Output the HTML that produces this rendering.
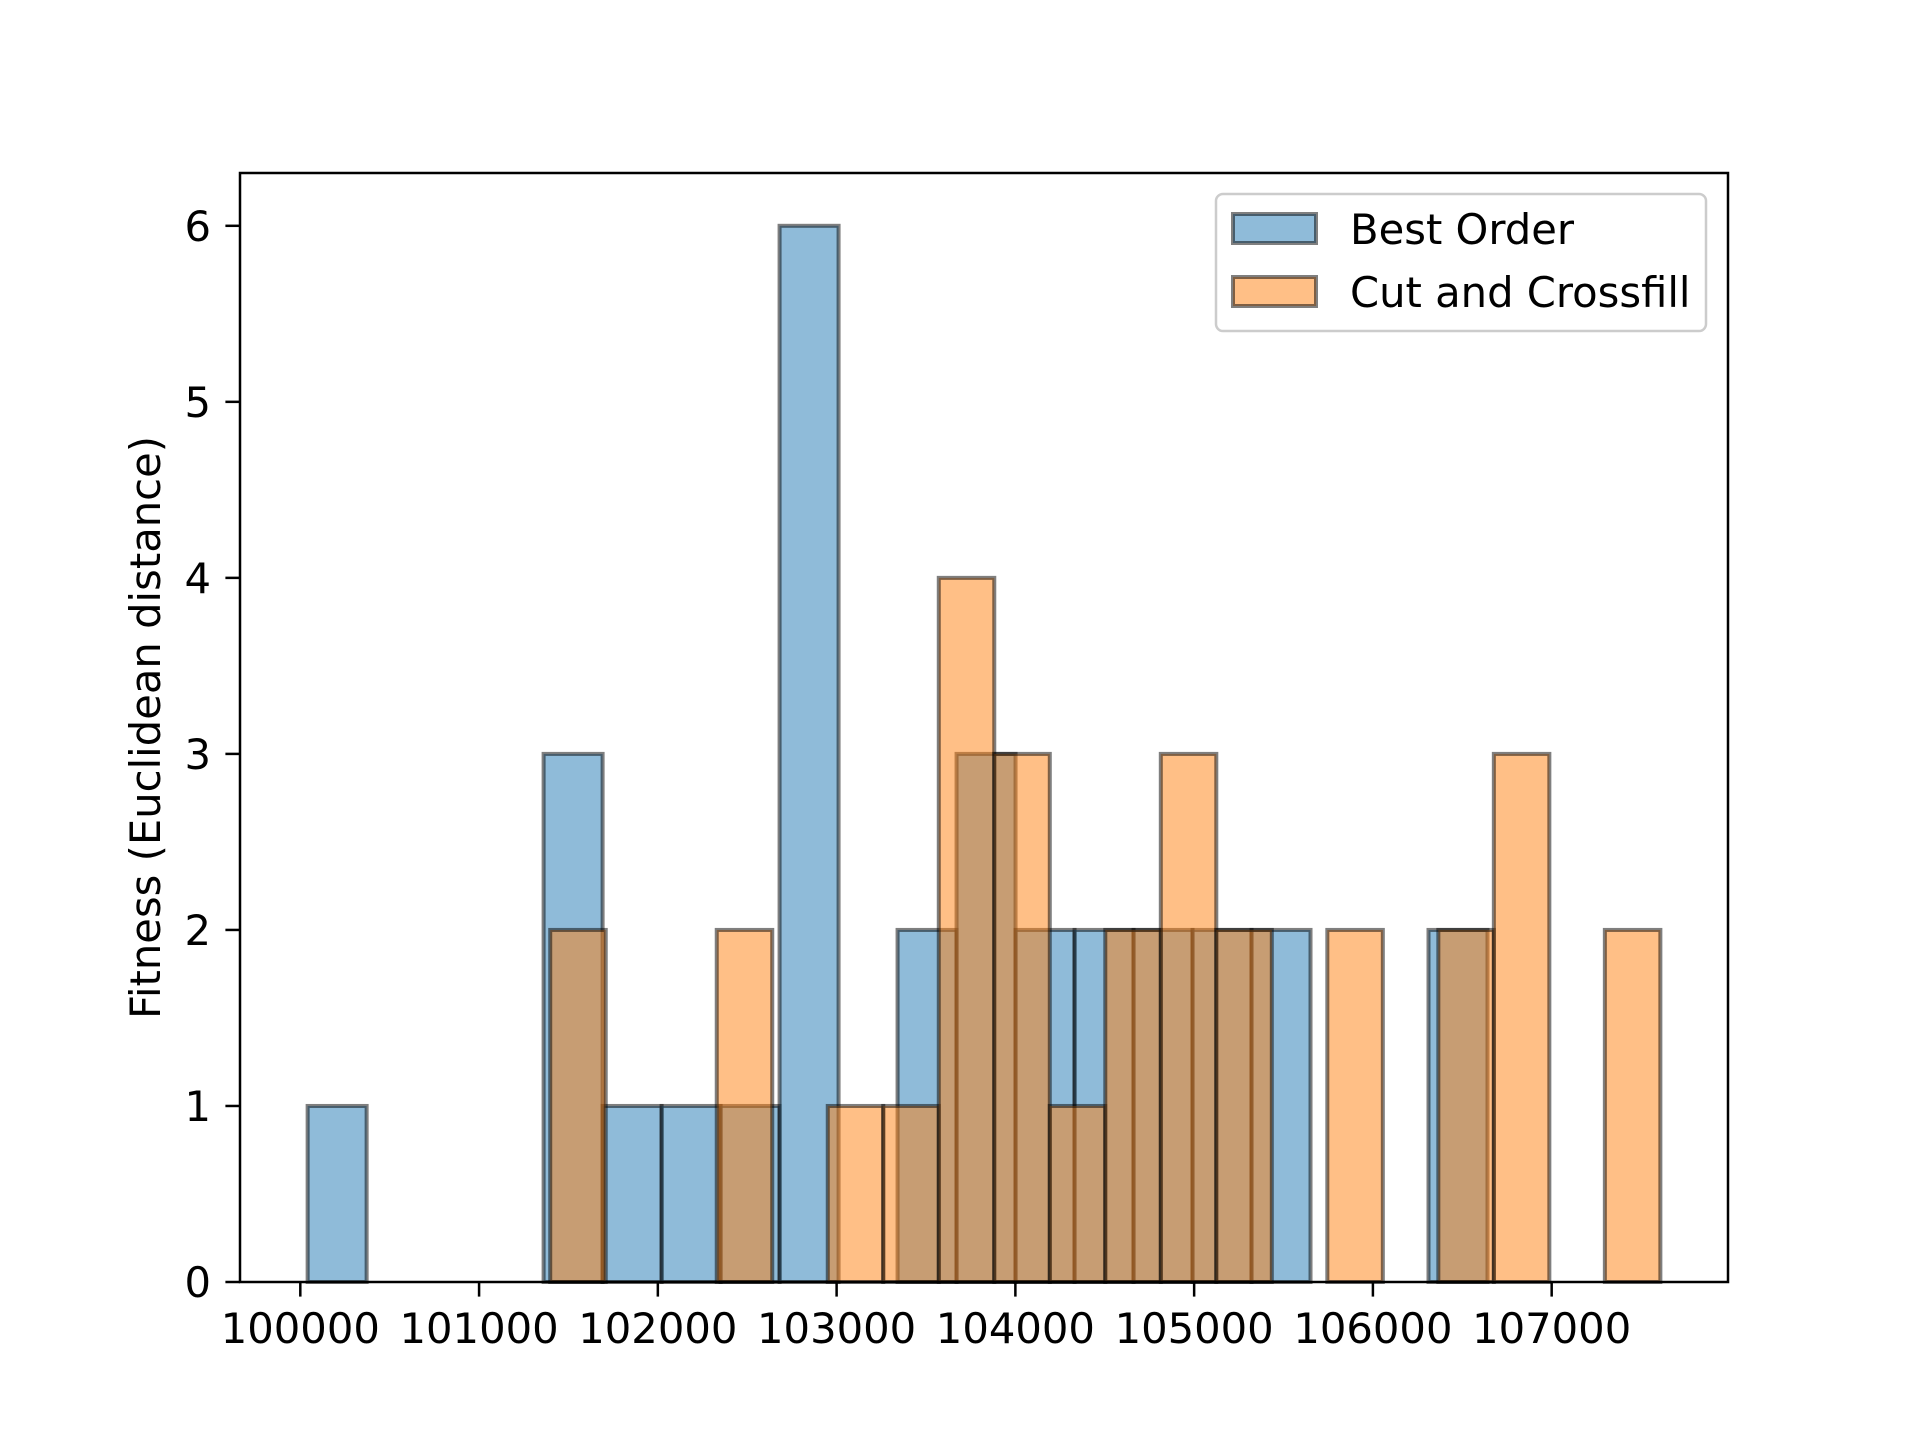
<!DOCTYPE html>
<html><head><meta charset="utf-8"><style>
html,body{margin:0;padding:0;background:#fff;}
svg text{font-family:"DejaVu Sans","Liberation Sans",sans-serif;fill:#000;}
</style></head><body>
<svg id="chart" width="1920" height="1440" viewBox="0 0 1920 1440" xmlns="http://www.w3.org/2000/svg">
<rect width="1920" height="1440" fill="#fff"/>
<g id="bars"></g>
<g id="axes"></g>
</svg>
<script>
const blueStart = 100041, blueWidth = 330;
const blueCounts = [1,0,0,0,3,1,1,1,6,0,2,3,2,2,2,2,2,0,0,2];
const orangeStart = 101398, orangeWidth = 310.5;
const orangeCounts = [2,0,0,2,0,1,1,4,3,1,2,3,2,0,2,0,2,3,0,2];
const xTicks = [100000,101000,102000,103000,104000,105000,106000,107000];
const yTicks = [0,1,2,3,4,5,6];
const seriesNames = ["Best Order","Cut and Crossfill"];

const L=240,R=1728,T=173,B=1282;
const FS=41.7;
const dmin=blueStart, dmax=orangeStart+orangeWidth*orangeCounts.length;
const pad=(dmax-dmin)*0.05;
const x0=dmin-pad, x1=dmax+pad;
const ymax=Math.max(...blueCounts,...orangeCounts)*1.05;
const sx=v=>L+(v-x0)/(x1-x0)*(R-L);
const sy=v=>B-v/ymax*(B-T);
const NS="http://www.w3.org/2000/svg";
function mk(tag,attrs,parent){const e=document.createElementNS(NS,tag);for(const k in attrs)e.setAttribute(k,attrs[k]);parent.appendChild(e);return e;}
const bars=document.getElementById('bars'), axes=document.getElementById('axes');
function drawSeries(start,width,counts,color,name){
  counts.forEach((c,i)=>{
    if(c<=0)return;
    const xa=sx(start+i*width), xb=sx(start+(i+1)*width);
    const r=mk('rect',{x:xa,y:sy(c),width:xb-xa,height:sy(0)-sy(c),fill:color,'fill-opacity':0.5,stroke:'#000','stroke-opacity':0.5,'stroke-width':4},bars);
    
    
  });
}
drawSeries(blueStart,blueWidth,blueCounts,'#1f77b4','best-order');
drawSeries(orangeStart,orangeWidth,orangeCounts,'#ff7f0e','cut-and-crossfill');
const frame=mk('rect',{x:L,y:T,width:R-L,height:B-T,fill:'none',stroke:'#000','stroke-width':2.5},axes);


xTicks.forEach(v=>{
  const x=sx(v);
  mk('line',{x1:x,x2:x,y1:B,y2:B+14.6,stroke:'#000','stroke-width':2.5},axes);
  const t=mk('text',{x:x,y:B+61,'text-anchor':'middle','font-size':FS},axes);
  t.textContent=v;
  
  
});
yTicks.forEach(v=>{
  const y=sy(v);
  mk('line',{x1:L,x2:L-14.6,y1:y,y2:y,stroke:'#000','stroke-width':2.5},axes);
  const t=mk('text',{x:L-29,y:y+15,'text-anchor':'end','font-size':FS},axes);
  t.textContent=v;
  
  
});
const yl=mk('text',{x:0,y:0,'text-anchor':'middle','font-size':FS,transform:'translate(160,'+((T+B)/2)+') rotate(-90)'},axes);
yl.textContent='Fitness (Euclidean distance)';


const lg=mk('g',{},axes);


mk('rect',{x:1216,y:194,width:490,height:137,rx:7,fill:'#fff','fill-opacity':0.8,stroke:'#ccc','stroke-width':2.5},lg);
const cols=['#1f77b4','#ff7f0e'];
seriesNames.forEach((n,i)=>{
  const y=214+i*63;
  const p=mk('rect',{x:1233,y:y,width:83,height:29,fill:cols[i],'fill-opacity':0.5,stroke:'#000','stroke-opacity':0.5,'stroke-width':4},lg);
  
  
  const t=mk('text',{x:1350,y:y+30,'font-size':FS},lg);
  t.textContent=n;
  
  
});
</script>
</body></html>
